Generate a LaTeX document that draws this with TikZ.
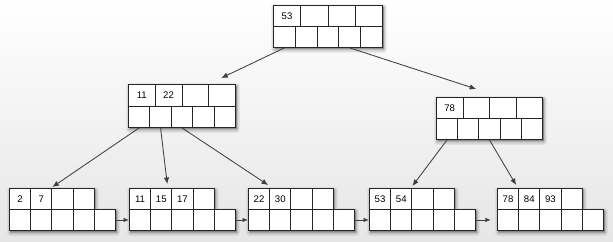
\documentclass[tikz,border=0pt]{standalone}
\usepackage{fontspec}
\setsansfont{Liberation Sans}
\usetikzlibrary{arrows.meta,calc}
\newcommand{\BTshadow}[1]{\foreach \w in {7,5,3.5,2,1}{\filldraw[black,opacity=0.055,line width=\w pt,line join=round,shift={(1.5,2.2)}] #1;}}
% #1 name, #2 x, #3 y, #4 top cell width, #5 bottom cell width, #6 row height, #7 labels
\newcommand{\BTnode}[7]{%
  \BTshadow{(#2,#3) rectangle ++({5*#5},{2*#6})}
  \foreach \lab [count=\i] in {#7}{%
    \node[cell,minimum width=#4pt,minimum height=#6pt] (#1-t\i) at ({#2+(\i-1)*#4},#3) {\lab};}
  \foreach \i in {1,...,5}{%
    \node[cell,minimum width=#5pt,minimum height=#6pt] (#1-b\i) at ({#2+(\i-1)*#5},{#3+#6}) {};}
}
% leaf: #1 name, #2 x, #3 labels
\newcommand{\BTleaf}[3]{%
  \BTshadow{(#2,188) -- ++(84.8,0) -- ++(0,21) -- ++(21.2,0) -- ++(0,21) -- ++(-106,0) -- cycle}
  \foreach \lab [count=\i] in {#3}{%
    \node[cell,minimum width=21.2pt,minimum height=21pt] (#1-t\i) at ({#2+(\i-1)*21.2},188) {\lab};}
  \foreach \i in {1,...,5}{%
    \node[cell,minimum width=21.2pt,minimum height=21pt] (#1-b\i) at ({#2+(\i-1)*21.2},209) {};}
}
\begin{document}
\begin{tikzpicture}[x=1pt,y=-1pt,
  cell/.style={draw=black!85,line width=0.9pt,fill=white,inner sep=0pt,anchor=north west,
    font=\sffamily\fontsize{9.6}{11}\selectfont,text=black},
  edge/.style={draw=black!75,line width=0.85pt,-{Latex[length=6.5pt,width=5.5pt]}},
  link/.style={draw=black!75,line width=0.85pt,-{Latex[length=5.5pt,width=4.5pt]}}]
\useasboundingbox (0,0) rectangle (613,241);
\shade[top color=white,middle color=white,bottom color=black!10] (0,0) rectangle (613,241);

\BTnode{R}{273}{5}{27.25}{21.8}{21}{53,{},{},{}}
\BTnode{A}{128}{84}{26.75}{21.4}{21.5}{11,22,{},{}}
\BTnode{B}{436}{97}{26.5}{21.2}{21}{78,{},{},{}}

\BTleaf{L1}{9}{2,7,{},{}}
\BTleaf{L2}{129}{11,15,17,{}}
\BTleaf{L3}{248}{22,30,{},{}}
\BTleaf{L4}{369}{53,54,{},{}}
\BTleaf{L5}{497}{78,84,93,{}}

% tree edges
\draw[edge] (R-b1.south) -- ($(A-t4.north west)+(13,-6)$);
\draw[edge] (R-b4.south) -- ($(B-t2.north)+(0,-8)$);
\draw[edge] (A-b1.south) -- ($(L1-t3.north west)+(1,-1)$);
\draw[edge] (A-b2.south) -- ($(L2-t2.north)+(6,-4)$);
\draw[edge] (A-b3.south) -- ($(L3-t1.north east)+(-2,-3)$);
\draw[edge] (B-b1.south) -- ($(L4-t3.north west)+(1,-2)$);
\draw[edge] (B-b3.south) -- ($(L5-t1.north east)+(-3,-3)$);

% leaf links
\draw[link] (L1-b5.east) -- (L2-b1.west);
\draw[link] (L2-b5.east) -- (L3-b1.west);
\draw[link] (L3-b5.east) -- (L4-b1.west);
\coordinate (end4) at ($(L4-b5.east)+(15,0)$);
\draw[link] (L4-b5.east) -- (end4);
\end{tikzpicture}
\end{document}
